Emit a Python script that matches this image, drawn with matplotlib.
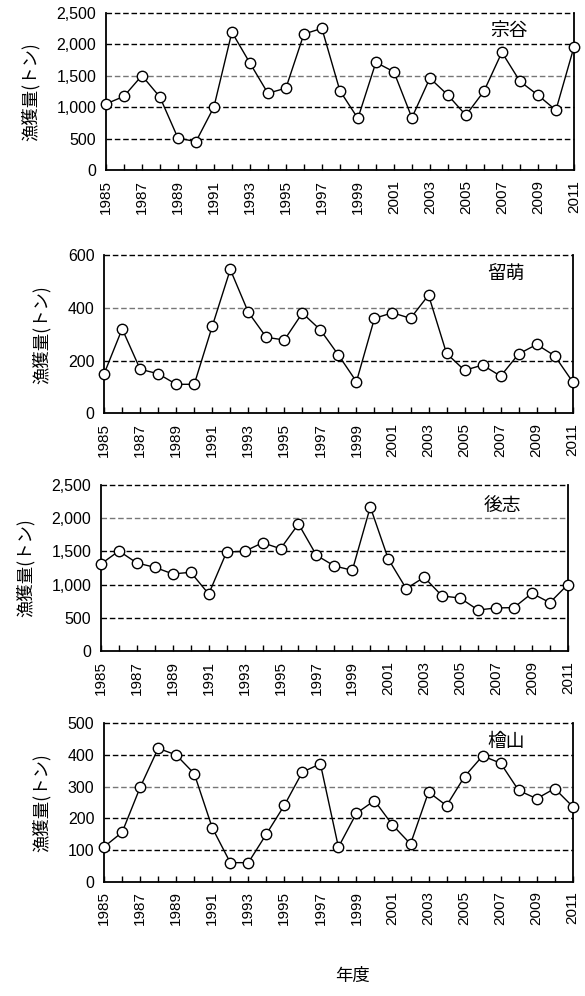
import matplotlib
matplotlib.use("Agg")
import matplotlib.pyplot as plt

plt.rcParams['font.family'] = ['Liberation Sans', 'Noto Sans CJK JP', 'DejaVu Sans']

years = list(range(1985, 2012))

souya = [1050, 1170, 1500, 1160, 510, 450, 1000, 2190, 1700, 1220, 1300,
         2160, 2250, 1260, 820, 1710, 1560, 830, 1460, 1190, 870,
         1250, 1870, 1410, 1190, 950, 1950]
rumoi = [150, 320, 167, 150, 110, 110, 330, 545, 383, 288, 278,
         380, 316, 221, 120, 360, 381, 360, 448, 227, 163,
         183, 141, 225, 261, 218, 119]
shiribeshi = [1310, 1506, 1325, 1260, 1160, 1185, 858, 1491, 1500, 1630, 1540,
              1913, 1441, 1280, 1215, 2169, 1386, 939, 1110, 828, 798,
              617, 648, 653, 869, 728, 1000]
hiyama = [110, 156, 298, 421, 400, 341, 170, 60, 60, 150, 241,
          346, 372, 109, 216, 256, 179, 119, 283, 240, 332,
          397, 374, 288, 262, 294, 237]

names = ['宗谷', '留萌', '後志', '檜山']
series = [souya, rumoi, shiribeshi, hiyama]
ymaxs = [2500, 600, 2500, 500]
ysteps = [500, 200, 500, 100]
light = [[1500], [400], [2000], [300]]

# axes rectangles (left, bottom, width, height)
rects = [
    (0.181, 0.8293, 0.800, 0.158),
    (0.178, 0.585, 0.801, 0.159),
    (0.1726, 0.3464, 0.798, 0.1667),
    (0.178, 0.1148, 0.801, 0.159),
]
title_pos = [(0.861, 0.884), (0.857, 0.877), (0.86, 0.876), (0.857, 0.888)]

fig = plt.figure(figsize=(5.85, 9.96), dpi=100)
jp = ['Noto Sans CJK JP', 'DejaVu Sans']

for i in range(4):
    ax = fig.add_axes(rects[i])
    ymax, step = ymaxs[i], ysteps[i]
    yt = list(range(0, ymax + 1, step))
    for v in yt[1:]:
        col = '#777777' if v in light[i] else 'black'
        ax.axhline(v, color=col, lw=1.0, ls=(0, (4, 2)), zorder=1, clip_on=False)
    ax.plot(years, series[i], color='black', lw=1.0, marker='o', ms=7.5,
            mfc='white', mec='black', mew=1.0, zorder=3, clip_on=False)
    ax.set_xlim(1985, 2011)
    ax.set_ylim(0, ymax)
    ax.spines['top'].set_visible(False)
    for s in ['left', 'right', 'bottom']:
        ax.spines[s].set_linewidth(1.3)
    ax.set_yticks(yt)
    ax.set_yticklabels([f"{v:,}" for v in yt], fontsize=11.5)
    ax.tick_params(axis='y', length=0, pad=7)
    ax.set_xticks(years)
    ax.set_xticklabels([str(y) if y % 2 == 1 else '' for y in years],
                       rotation=90, fontsize=11)
    ax.tick_params(axis='x', direction='in', length=4, width=1.0, pad=7)
    ax.set_ylabel('漁獲量(トン)', family=jp, fontsize=12.5, labelpad=12)
    ax.text(title_pos[i][0], title_pos[i][1], names[i], family=jp, fontsize=13.5,
            ha='center', va='center', transform=ax.transAxes)

fig.text(0.602, 0.011, '年度', family=jp, fontsize=12.5, ha='center', va='bottom')

fig.savefig('out.png', dpi=100)
